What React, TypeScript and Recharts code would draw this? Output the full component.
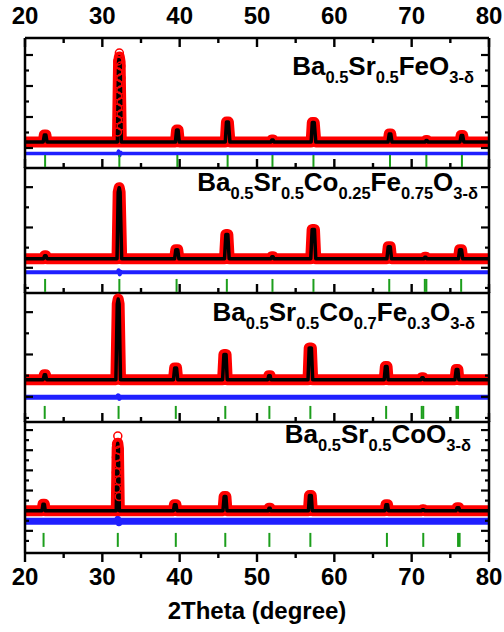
import React from 'react';
import { ComposedChart, Line, Scatter, XAxis, YAxis } from 'recharts';

const W = 504;
const H = 632;
const FONT = '"Liberation Sans", Arial, Helvetica, sans-serif';

const majorX = [20, 30, 40, 50, 60, 70, 80];
const minorX = [25, 35, 45, 55, 65, 75];

// profiles: [2theta, intensity (a.u., panel-local)]
const prof1 = [
  [20, 26], [22.35, 26], [22.5, 33], [22.7, 33], [22.85, 26],
  [31.95, 26], [32.1, 106], [32.2, 111], [32.3, 106], [32.45, 26],
  [39.45, 26], [39.6, 38], [39.8, 38], [39.95, 26],
  [45.9, 26], [46.05, 46], [46.3, 46], [46.5, 26],
  [51.8, 26], [51.92, 28], [52.08, 28], [52.2, 26],
  [57.0, 26], [57.15, 45.5], [57.4, 45.5], [57.6, 26],
  [66.95, 26], [67.1, 34], [67.3, 34], [67.45, 26],
  [71.75, 26], [71.85, 27.5], [72.0, 27.5], [72.1, 26],
  [76.25, 26], [76.4, 32.5], [76.6, 32.5], [76.75, 26],
  [80, 26],
];
const prof2 = [
  [20, 34], [22.4, 34], [22.55, 37], [22.7, 37], [22.85, 34],
  [31.9, 34], [32.05, 100], [32.18, 104.5], [32.3, 100], [32.5, 34],
  [39.35, 34], [39.5, 43], [39.75, 43], [39.9, 34],
  [45.8, 34], [45.97, 58], [46.23, 58], [46.4, 34],
  [51.8, 34], [51.92, 36], [52.08, 36], [52.2, 34],
  [56.95, 34], [57.13, 63], [57.43, 63], [57.6, 34],
  [66.8, 34], [66.97, 46], [67.23, 46], [67.4, 34],
  [71.6, 34], [71.7, 35.5], [71.85, 35.5], [71.95, 34],
  [76.05, 34], [76.2, 43], [76.45, 43], [76.6, 34],
  [80, 34],
];
const prof3 = [
  [20, 42], [22.35, 42], [22.5, 47], [22.65, 47], [22.8, 42],
  [31.75, 42], [31.93, 117], [32.05, 122], [32.17, 117], [32.35, 42],
  [39.2, 42], [39.35, 53.5], [39.6, 53.5], [39.75, 42],
  [45.55, 42], [45.72, 67], [46.0, 67], [46.15, 42],
  [51.4, 42], [51.52, 46], [51.7, 46], [51.8, 42],
  [56.6, 42], [56.75, 73.5], [57.03, 73.5], [57.2, 42],
  [66.45, 42], [66.6, 55], [66.82, 55], [66.95, 42],
  [71.2, 42], [71.32, 44], [71.48, 44], [71.6, 42],
  [75.6, 42], [75.75, 52], [75.98, 52], [76.1, 42],
  [80, 42],
];
const prof4 = [
  [20, 42], [22.2, 42], [22.33, 48.5], [22.5, 48.5], [22.62, 42],
  [31.8, 42], [31.92, 104], [32.0, 109], [32.08, 104], [32.2, 42],
  [39.2, 42], [39.32, 48], [39.52, 48], [39.65, 42],
  [45.6, 42], [45.75, 56], [45.98, 56], [46.12, 42],
  [51.45, 42], [51.55, 44.5], [51.7, 44.5], [51.8, 42],
  [56.65, 42], [56.78, 57], [57.02, 57], [57.15, 42],
  [66.55, 42], [66.68, 48], [66.88, 48], [67.0, 42],
  [71.3, 42], [71.4, 43], [71.55, 43], [71.65, 42],
  [75.75, 42], [75.88, 45], [76.1, 45], [76.22, 42],
  [80, 42],
];

// open circles visible on the strongest reflection
const circ1 = [
  [32.2, 115], [32.02, 107], [32.38, 102], [32.0, 96], [32.4, 90], [32.0, 84], [32.4, 78],
  [31.98, 72], [32.42, 66], [31.98, 60], [32.42, 54], [31.97, 48], [32.43, 42], [31.96, 36],
];
const circ4 = [
  [32.0, 116], [31.84, 108], [32.16, 102], [31.83, 95], [32.17, 88], [31.82, 80], [32.18, 72],
  [31.82, 64], [32.18, 56],
];

// difference curves
const diff1 = [[20, 14.5], [31.95, 14.5], [32.1, 17], [32.25, 12.5], [32.4, 15.5], [32.55, 14.5], [80, 14.5]];
const diff2 = [[20, 20.5], [31.95, 20.5], [32.1, 22.5], [32.25, 18.5], [32.4, 21], [32.55, 20.5], [80, 20.5]];
const diff3 = [[20, 24.5], [31.9, 24.5], [32.05, 26], [32.2, 23.5], [32.35, 24.5], [80, 24.5]];
const diff4 = [[20, 31.5], [31.85, 31.5], [32.0, 33.5], [32.15, 30], [32.3, 31.5], [80, 31.5]];

// Bragg reflection positions
const bragg1 = [22.6, 32.2, 39.7, 46.2, 52.0, 57.3, 67.2, 71.9, 76.5];
const bragg2 = [22.6, 32.2, 39.6, 46.1, 52.0, 57.3, 67.1, 71.7, 71.9, 76.4];
const bragg3 = [22.55, 32.1, 39.5, 45.9, 51.6, 56.9, 66.7, 71.3, 71.5, 75.8, 76.0];
const bragg4 = [22.4, 32.0, 39.5, 45.9, 51.6, 56.9, 66.8, 71.5, 76.0, 76.2];

// y ticks per panel (a.u.)
const yTicks1 = [20, 35.5, 51, 66.5, 82, 97.5, 113];
const yLong1 = [20, 51, 82, 113];
const yTicks2 = [5, 25, 45, 65, 85, 105];
const yLong2 = [25, 65, 105];
const yTicks3 = [4, 25, 46, 67, 88, 109];
const yLong3 = [25, 67, 109];
const yTicks4 = [12, 22, 32, 42, 52, 62, 72, 82, 92, 102, 112, 122];
const yLong4 = [22, 42, 62, 82, 102, 122];

const formula1 = [['Ba', 0], ['0.5', 1], ['Sr', 0], ['0.5', 1], ['FeO', 0], ['3-δ', 1]];
const formula2 = [['Ba', 0], ['0.5', 1], ['Sr', 0], ['0.5', 1], ['Co', 0], ['0.25', 1], ['Fe', 0], ['0.75', 1], ['O', 0], ['3-δ', 1]];
const formula3 = [['Ba', 0], ['0.5', 1], ['Sr', 0], ['0.5', 1], ['Co', 0], ['0.7', 1], ['Fe', 0], ['0.3', 1], ['O', 0], ['3-δ', 1]];
const formula4 = [['Ba', 0], ['0.5', 1], ['Sr', 0], ['0.5', 1], ['CoO', 0], ['3-δ', 1]];

const pts = (rows: number[][]) => rows.map(([t, y]) => ({ t, y }));

const panels = [
  { top: 38, bottom: 168, prof: prof1, circ: circ1, diff: diff1, diffW: 3.5, bragg: bragg1, braggY: 7, braggHalf: 6, yTicks: yTicks1, yLong: yLong1, formula: formula1, fx: 474, fy: 75 },
  { top: 168, bottom: 293, prof: prof2, circ: [], diff: diff2, diffW: 4, bragg: bragg2, braggY: 7.5, braggHalf: 6.5, yTicks: yTicks2, yLong: yLong2, formula: formula2, fx: 478, fy: 191 },
  { top: 293, bottom: 422, prof: prof3, circ: [], diff: diff3, diffW: 5, bragg: bragg3, braggY: 9.5, braggHalf: 6.5, yTicks: yTicks3, yLong: yLong3, formula: formula3, fx: 475, fy: 321 },
  { top: 422, bottom: 553, prof: prof4, circ: circ4, diff: diff4, diffW: 7, bragg: bragg4, braggY: 13, braggHalf: 7, yTicks: yTicks4, yLong: yLong4, formula: formula4, fx: 471, fy: 443 },
];

const axisLine = { stroke: '#000', strokeWidth: 2.5 };

function XLabel(props: any) {
  const { x, y, payload, side } = props;
  return (
    <text x={x} y={side === 'top' ? y - 14.5 : y + 32} textAnchor="middle"
      fontFamily={FONT} fontWeight="bold" fontSize={24} fill="#000">{payload.value}</text>
  );
}

function YTick(props: any) {
  const { x, y, payload, side, longs } = props;
  const len = longs.includes(payload.value) ? 8 : 4;
  const dir = side === 'left' ? 1 : -1;
  return <line x1={x} y1={y} x2={x + dir * len} y2={y} stroke="#000" strokeWidth={2.2} />;
}

// vertical tick mark drawn at a scatter point; dir -1 = upwards, 1 = downwards
const mark = (len: number, dir: number) => (sp: any) => (
  <rect x={sp.cx - 1.2} y={dir < 0 ? sp.cy - len : sp.cy} width={2.4} height={len} fill="#000" />
);

function Formula({ parts, x, y }: { parts: (string | number)[][]; x: number; y: number }) {
  let prev = 0;
  return (
    <text x={x} y={y} textAnchor="end" fontFamily={FONT} fontWeight="bold" fill="#000">
      {parts.map(([s, sub], i) => {
        const dy = ((sub as number) - prev) * 8;
        prev = sub as number;
        return <tspan key={i} dy={dy} fontSize={sub ? 16.5 : 26}>{s}</tspan>;
      })}
    </text>
  );
}

function Panel({ p, index }: { p: any; index: number }) {
  const first = index === 0;
  const last = index === panels.length - 1;
  const above = first ? p.top : 4;
  const below = last ? H - p.bottom : 4;
  const h = p.bottom - p.top;
  const bragg = p.bragg.map((t: number) => ({ t, y: p.braggY }));
  const half = p.braggHalf;
  const bottomMajor = majorX.map((t) => ({ t, y: 0 }));
  const bottomMinor = minorX.map((t) => ({ t, y: 0 }));
  const topMajor = majorX.map((t) => ({ t, y: h }));
  const topMinor = minorX.map((t) => ({ t, y: h }));
  const bdir = last ? 1 : -1;
  // the top axis (panel 1) and the right axis only get ticks when a series is bound to them
  const topX = first ? 't' : 'b';

  return (
    <div style={{ position: 'absolute', left: 0, top: p.top - above }}>
      <ComposedChart width={W} height={above + h + below}
        margin={{ top: first ? 4 : 3, right: 14, bottom: 3, left: 24 }}>
        <XAxis xAxisId="b" type="number" dataKey="t" domain={[20, 80]} ticks={majorX} interval={0}
          orientation="bottom" height={below - 3} tickSize={0} tickMargin={0} tickLine={false}
          axisLine={axisLine}
          tick={last ? (tp: any) => <XLabel {...tp} side="bottom" /> : false}
          label={last ? {
            value: '2Theta (degree)', position: 'insideBottom', offset: 10,
            fontSize: 24, fontWeight: 'bold', fontFamily: FONT, fill: '#000',
          } : undefined}
        />
        {first && (
          <XAxis xAxisId="t" type="number" dataKey="t" domain={[20, 80]} ticks={majorX} interval={0}
            orientation="top" height={above - 4} tickSize={0} tickMargin={0} tickLine={false}
            axisLine={axisLine}
            tick={(tp: any) => <XLabel {...tp} side="top" />}
          />
        )}
        <YAxis yAxisId="l" type="number" domain={[0, h]} ticks={p.yTicks} interval={0} width={1}
          tickSize={0} tickMargin={0} tickLine={false} axisLine={axisLine}
          tick={(tp: any) => <YTick {...tp} side="left" longs={p.yLong} />}
        />
        <YAxis yAxisId="r" orientation="right" type="number" domain={[0, h]} ticks={p.yTicks} interval={0} width={1}
          tickSize={0} tickMargin={0} tickLine={false} axisLine={axisLine}
          tick={(tp: any) => <YTick {...tp} side="right" longs={p.yLong} />}
        />

        <Scatter xAxisId="b" yAxisId="l" data={bottomMajor} dataKey="y" isAnimationActive={false} shape={mark(9, bdir)} />
        <Scatter xAxisId="b" yAxisId="l" data={bottomMinor} dataKey="y" isAnimationActive={false} shape={mark(5, bdir)} />
        {first && <Scatter xAxisId={topX} yAxisId="l" data={topMajor} dataKey="y" isAnimationActive={false} shape={mark(9, 1)} />}
        {first && <Scatter xAxisId={topX} yAxisId="l" data={topMinor} dataKey="y" isAnimationActive={false} shape={mark(5, 1)} />}

        <Line xAxisId="b" yAxisId="r" data={pts(p.diff)} dataKey="y" type="linear" stroke="#1f1fff"
          strokeWidth={p.diffW} strokeLinejoin="round" dot={false} activeDot={false} isAnimationActive={false} />
        <Scatter xAxisId="b" yAxisId="l" data={bragg} dataKey="y" isAnimationActive={false}
          shape={(sp: any) => (
            <line x1={sp.cx} x2={sp.cx} y1={sp.cy - half} y2={sp.cy + half} stroke="#1c9e1c" strokeWidth={2} />
          )}
        />
        <Line xAxisId="b" yAxisId="l" data={pts(p.prof)} dataKey="y" type="linear" stroke="#ff0000"
          strokeWidth={11} strokeLinejoin="round" dot={false} activeDot={false} isAnimationActive={false} />
        <Scatter xAxisId="b" yAxisId="l" data={pts(p.circ)} dataKey="y" isAnimationActive={false}
          shape={(sp: any) => (
            <circle cx={sp.cx} cy={sp.cy} r={4} fill="none" stroke="#ff0000" strokeWidth={1.5} />
          )}
        />
        <Line xAxisId="b" yAxisId="l" data={pts(p.prof)} dataKey="y" type="linear" stroke="#000"
          strokeWidth={3.5} strokeLinejoin="round" dot={false} activeDot={false} isAnimationActive={false} />
      </ComposedChart>
    </div>
  );
}

export default function App() {
  return (
    <div style={{ position: 'absolute', left: 0, top: 0, width: W, height: H, background: '#fff' }}>
      {panels.map((p, i) => <Panel key={i} p={p} index={i} />)}
      <svg width={W} height={H} style={{ position: 'absolute', left: 0, top: 0, pointerEvents: 'none' }}>
        {panels.map((p, i) => <Formula key={i} parts={p.formula} x={p.fx} y={p.fy} />)}
      </svg>
    </div>
  );
}
